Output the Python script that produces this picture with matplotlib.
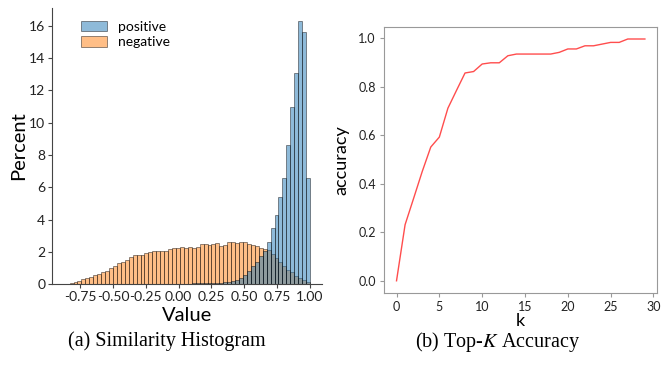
import matplotlib
matplotlib.use("Agg")
import matplotlib.pyplot as plt
import numpy as np

# histogram: percent per bin, bins of width 0.03 starting at -0.86
bin_start = -0.86
bin_width = 0.03
negative = [0.03, 0.05, 0.12, 0.2, 0.3, 0.36, 0.44, 0.54, 0.65, 0.73, 0.81,
            1.0, 1.1, 1.3, 1.38, 1.48, 1.67, 1.81, 1.81, 1.81, 1.94,
            1.96, 2.02, 2.08, 2.06, 2.02, 2.15, 2.21, 2.23, 2.31, 2.25,
            2.29, 2.21, 2.29, 2.5, 2.46, 2.4, 2.48, 2.52, 2.35, 2.4,
            2.6, 2.6, 2.52, 2.6, 2.6, 2.5, 2.4, 2.35, 2.25, 2.2,
            2.09, 1.88, 1.6, 1.35, 1.1, 0.89, 0.72, 0.52, 0.37, 0.23, 0.1]
positive = [0, 0, 0, 0, 0, 0, 0, 0, 0, 0,
            0, 0, 0, 0, 0, 0, 0, 0, 0, 0,
            0.01, 0.01, 0.01, 0.01, 0.01, 0.02, 0.02, 0.02, 0.02, 0.03,
            0.03, 0.03, 0.04, 0.04, 0.04, 0.05, 0.05, 0.06, 0.06,
            0.08, 0.1, 0.16, 0.2, 0.27, 0.37, 0.54, 0.79, 1.1, 1.37, 1.72, 2.03,
            2.59, 3.46, 4.27, 5.38, 6.58, 8.61, 10.97, 13.06, 16.3, 15.6, 6.58]

# top-k accuracy
k = list(range(30))
accuracy = [0.0, 0.231, 0.34, 0.45, 0.551, 0.592, 0.711, 0.784, 0.856, 0.862,
            0.893, 0.898, 0.898, 0.927, 0.934, 0.934, 0.934, 0.934, 0.934, 0.941,
            0.955, 0.955, 0.968, 0.968, 0.975, 0.982, 0.982, 0.996, 0.996, 0.996]

tick_font = "Lato"

fig = plt.figure(figsize=(6.68, 3.68), dpi=100)

# (a) similarity histogram
ax1 = fig.add_axes([0.078, 0.228, 0.404, 0.75])
left_edges = bin_start + bin_width * np.arange(len(negative))
ax1.bar(left_edges, negative, width=bin_width, align='edge', color='#ff7f0e',
        alpha=0.5, edgecolor='black', linewidth=0.6, label='negative')
ax1.bar(left_edges, positive, width=bin_width, align='edge', color='#1f77b4',
        alpha=0.5, edgecolor='black', linewidth=0.6, label='positive')
ax1.set_xlim(-0.963, 1.091)
ax1.set_ylim(0, 17.1)
ax1.set_xticks([-0.75, -0.5, -0.25, 0.0, 0.25, 0.5, 0.75, 1.0])
ax1.set_xticklabels(['-0.75', '-0.50', '-0.25', '0.00', '0.25', '0.50', '0.75', '1.00'])
ax1.set_yticks(range(0, 17, 2))
for side in ['top', 'right']:
    ax1.spines[side].set_visible(False)
for side in ['left', 'bottom']:
    ax1.spines[side].set_color('#444444')
ax1.tick_params(colors='#444444', labelcolor='#222222', length=3, width=0.8,
                labelsize=10, pad=2)
for lbl in ax1.get_xticklabels() + ax1.get_yticklabels():
    lbl.set_family(tick_font)
ax1.set_xlabel('Value', family=tick_font, fontsize=14.5, labelpad=3)
ax1.set_ylabel('Percent', family=tick_font, fontsize=14.5, labelpad=1)
handles, labels = ax1.get_legend_handles_labels()
ax1.legend(handles[::-1], labels[::-1], loc='upper left', bbox_to_anchor=(0.06, 1.0),
           frameon=False, prop={'family': tick_font, 'size': 10},
           handlelength=1.9, handleheight=0.8, labelspacing=0.25, handletextpad=0.8)

# (b) top-k accuracy
ax2 = fig.add_axes([0.575, 0.204, 0.409, 0.723])
ax2.plot(k, accuracy, color='#ff4d4d', linewidth=1.0)
ax2.set_xlim(-1.45, 30.45)
ax2.set_ylim(-0.05, 1.046)
ax2.set_xticks(range(0, 31, 5))
ax2.set_yticks([0.0, 0.2, 0.4, 0.6, 0.8, 1.0])
for s in ax2.spines.values():
    s.set_color('#999999')
ax2.tick_params(colors='#999999', labelcolor='#222222', length=3, width=0.8,
                labelsize=9, pad=3)
for lbl in ax2.get_xticklabels() + ax2.get_yticklabels():
    lbl.set_family(tick_font)
ax2.set_xlabel('k', family=tick_font, fontsize=13, labelpad=0)
ax2.set_ylabel('accuracy', family=tick_font, fontsize=13, labelpad=6)

# captions
plt.rcParams['mathtext.fontset'] = 'stix'
fig.text(0.25, 0.072, '(a) Similarity Histogram', ha='center', va='center',
         family='Liberation Serif', fontsize=14.5)
fig.text(0.745, 0.072, '(b) Top-$K$ Accuracy', ha='center', va='center',
         family='Liberation Serif', fontsize=14.5)

fig.savefig('out.png', dpi=100)
